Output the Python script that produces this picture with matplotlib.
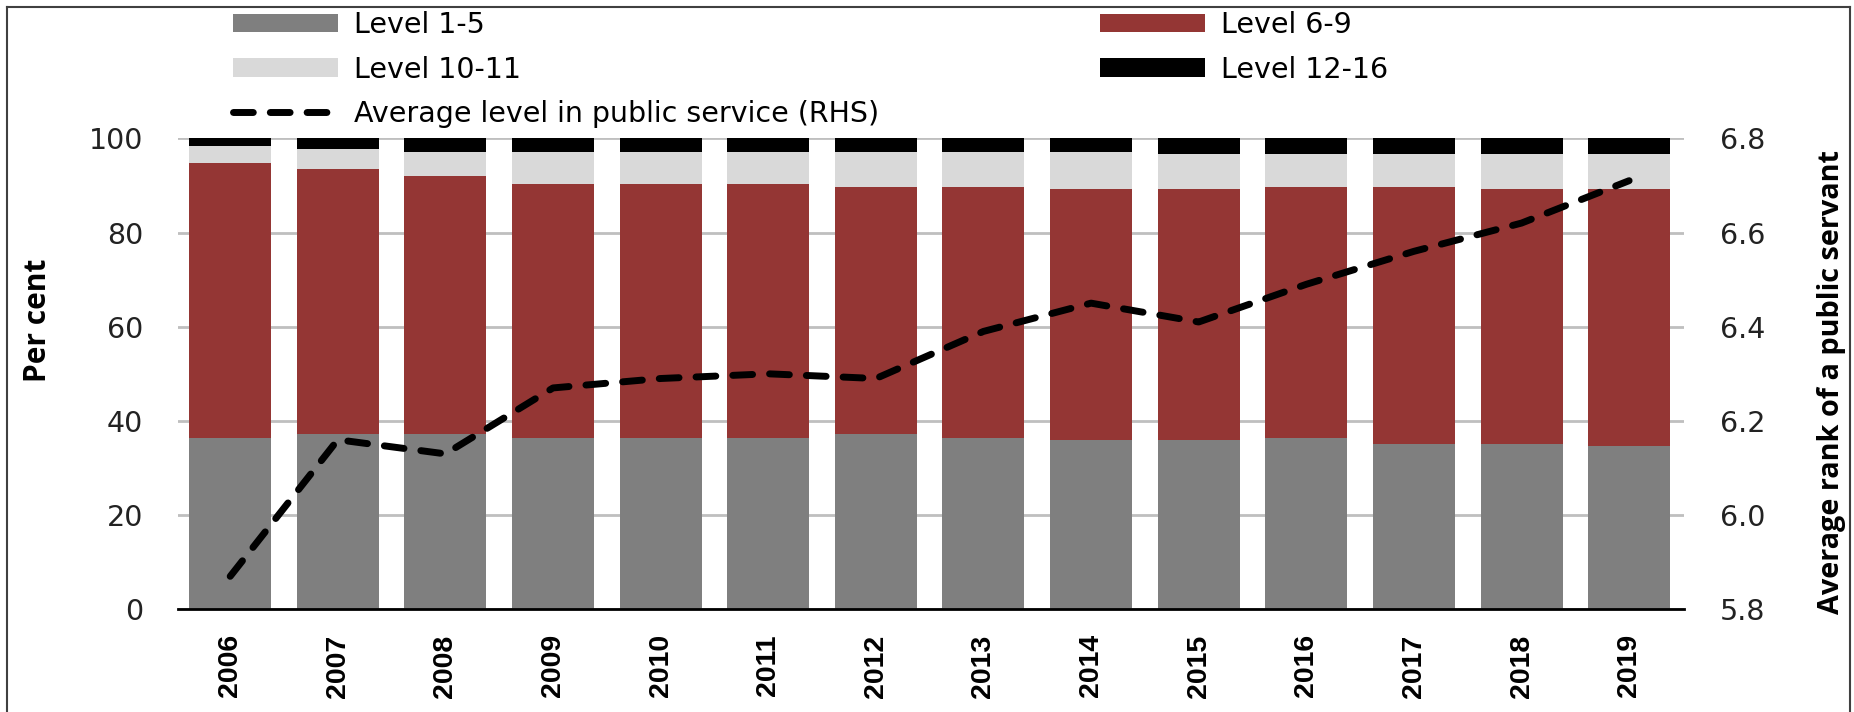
import numpy as np
import matplotlib
matplotlib.use('Agg')
import matplotlib.pyplot as plt
from matplotlib.patches import Patch
from matplotlib.lines import Line2D

years = ['2006', '2007', '2008', '2009', '2010', '2011', '2012',
         '2013', '2014', '2015', '2016', '2017', '2018', '2019']

# share of public servants by level band (per cent)
level_1_5 = [36.4, 37.2, 37.2, 36.4, 36.4, 36.4, 37.2, 36.4, 35.9, 35.9, 36.4, 35.2, 35.2, 34.7]
level_6_9 = [58.3, 56.3, 54.8, 54.0, 54.0, 54.0, 52.4, 53.2, 53.3, 53.3, 53.2, 54.4, 54.0, 54.5]
level_10_11 = [3.7, 4.2, 5.0, 6.6, 6.6, 6.6, 7.4, 7.4, 7.8, 7.4, 7.0, 7.0, 7.4, 7.4]
level_12_16 = [1.6, 2.3, 3.0, 3.0, 3.0, 3.0, 3.0, 3.0, 3.0, 3.4, 3.4, 3.4, 3.4, 3.4]

# average rank (RHS)
avg_level = [5.87, 6.16, 6.13, 6.27, 6.29, 6.30, 6.29, 6.39, 6.45, 6.41, 6.49, 6.56, 6.62, 6.71]

series = [
    (level_1_5, '#7F7F7F', 'Level 1-5'),
    (level_6_9, '#943634', 'Level 6-9'),
    (level_10_11, '#D9D9D9', 'Level 10-11'),
    (level_12_16, '#000000', 'Level 12-16'),
]

plt.rcParams['font.family'] = 'DejaVu Sans'

W, H = 1854, 712
fig = plt.figure(figsize=(W / 100, H / 100), dpi=100)
ax = fig.add_axes([178 / W, 1 - 609.3 / H, (1684 - 178) / W, (609.3 - 138.3) / H])

x = np.arange(len(years))
bottom = np.zeros(len(years))
for vals, color, label in series:
    ax.bar(x, vals, 0.762, bottom=bottom, color=color, label=label, zorder=2)
    bottom += np.array(vals)

ax.set_xlim(-0.485, 13.51)
ax.set_ylim(0, 100)
ax.set_yticks(range(0, 101, 20))
ax.yaxis.grid(True, color='#BFBFBF', linewidth=2)
ax.set_axisbelow(True)
for s in ['top', 'left', 'right']:
    ax.spines[s].set_visible(False)
ax.spines['bottom'].set_color('black')
ax.spines['bottom'].set_linewidth(2)
ax.tick_params(axis='y', length=0, pad=25, labelsize=20.5, labelcolor='#222222')
ax.tick_params(axis='x', length=0, pad=18)
ax.set_xticks(x)
ax.set_xticklabels(years, rotation=90, fontfamily='Liberation Sans',
                   fontweight='bold', fontsize=20.5)

ax2 = ax.twinx()
ax2.set_ylim(5.8, 6.8)
rhs_ticks = [5.8, 6.0, 6.2, 6.4, 6.6, 6.8]
ax2.set_yticks(rhs_ticks)
ax2.set_yticklabels([f'{t:.1f}' for t in rhs_ticks])
for s in ax2.spines.values():
    s.set_visible(False)
ax2.tick_params(axis='y', length=0, pad=26, labelsize=20.5, labelcolor='#222222')
ax2.plot(x, avg_level, color='black', lw=5, dashes=(2.85, 2.45),
         dash_capstyle='round', zorder=3)

# legend, two columns laid out as separate boxes
h = {label: Patch(facecolor=color) for _, color, label in series}
h_line = Line2D([], [], color='black', lw=5, dashes=(2.85, 2.45), dash_capstyle='round')
leg_kw = dict(loc='upper left', frameon=False, borderpad=0, borderaxespad=0,
              handlelength=3.68, handleheight=0.64, handletextpad=0.57,
              labelspacing=0.58, fontsize=20.5)
fig.legend([h['Level 1-5'], h['Level 10-11'], h_line],
           ['Level 1-5', 'Level 10-11', 'Average level in public service (RHS)'],
           bbox_to_anchor=(233 / W, 1 - 11 / H), **leg_kw)
fig.legend([h['Level 6-9'], h['Level 12-16']], ['Level 6-9', 'Level 12-16'],
           bbox_to_anchor=(1100 / W, 1 - 11 / H), **leg_kw)

fig.text(38 / W, 1 - 320 / H, 'Per cent', rotation=90, ha='center', va='center',
         fontfamily='Open Sans', fontweight='bold', fontsize=21.5)
fig.text(1831 / W, 1 - 382 / H, 'Average rank of a public servant', rotation=90,
         ha='center', va='center', fontfamily='Open Sans', fontweight='bold', fontsize=20.8)

# outer frame
for xs, ys in [([7, 7], [H, 7]), ([7, 1850], [7, 7]), ([1850, 1850], [7, H])]:
    fig.add_artist(Line2D([v / W for v in xs], [1 - v / H for v in ys],
                          transform=fig.transFigure, color='#404040', lw=1.5))

fig.savefig('out.png', dpi=100)
